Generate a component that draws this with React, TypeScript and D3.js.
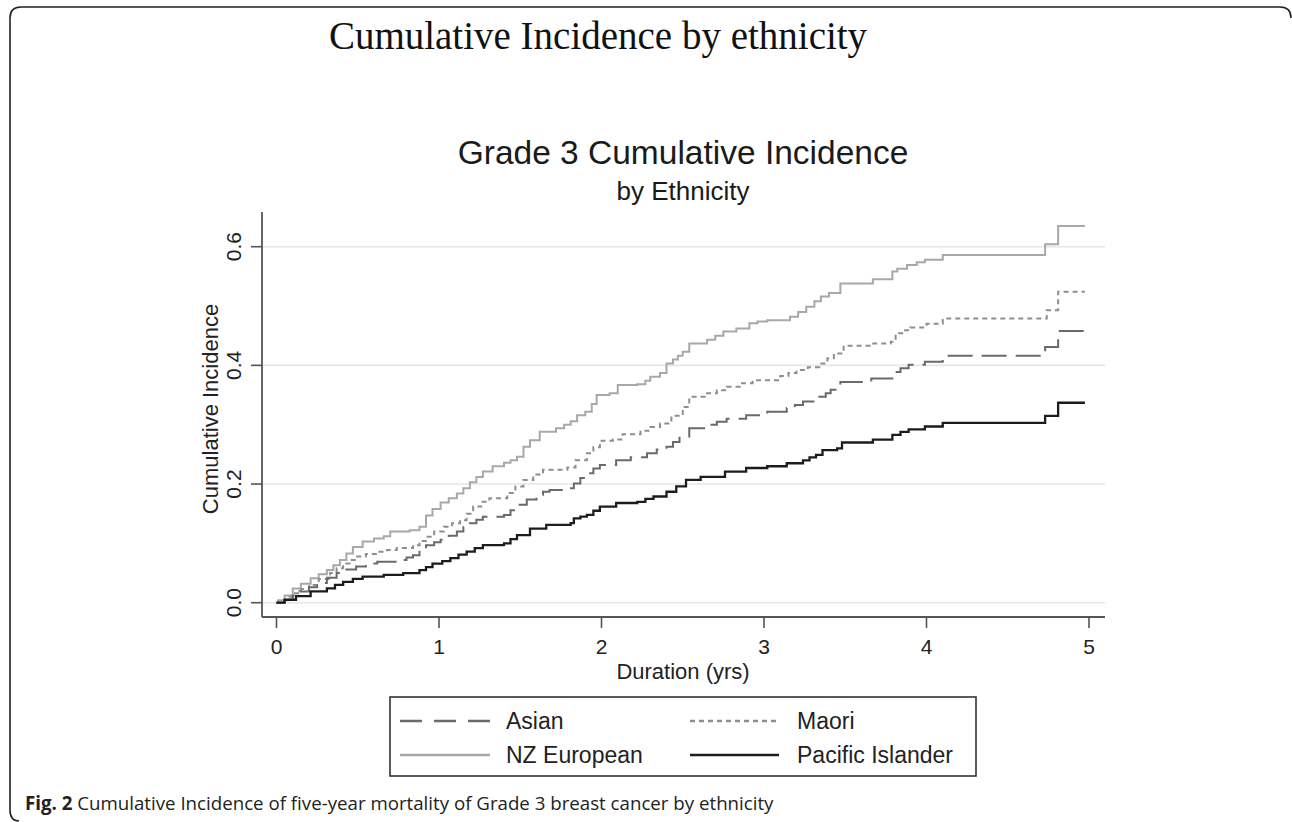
import React from "react";
import * as d3 from "d3";

// ---------- data ----------
const END_T = 4.975;

const NZ_T = [0, 0.01, 0.05, 0.1, 0.15, 0.21, 0.26, 0.31, 0.35, 0.39, 0.43, 0.47, 0.53, 0.6, 0.66, 0.7, 0.82, 0.88, 0.92, 0.96, 1.01, 1.06, 1.11, 1.15, 1.19, 1.23, 1.27, 1.33, 1.4, 1.44, 1.48, 1.52, 1.56, 1.62, 1.72, 1.77, 1.81, 1.85, 1.9, 1.94, 1.97, 2.05, 2.1, 2.22, 2.27, 2.3, 2.36, 2.4, 2.44, 2.47, 2.5, 2.54, 2.65, 2.7, 2.75, 2.83, 2.91, 2.96, 3.02, 3.16, 3.21, 3.26, 3.31, 3.35, 3.4, 3.47, 3.67, 3.79, 3.82, 3.88, 3.94, 3.99, 4.1, 4.73, 4.81];
const NZ_V = [0, 0.004, 0.012, 0.024, 0.032, 0.041, 0.048, 0.055, 0.063, 0.072, 0.083, 0.094, 0.103, 0.108, 0.112, 0.12, 0.122, 0.128, 0.147, 0.158, 0.169, 0.176, 0.184, 0.193, 0.203, 0.212, 0.221, 0.23, 0.236, 0.24, 0.246, 0.263, 0.274, 0.288, 0.294, 0.3, 0.306, 0.316, 0.322, 0.335, 0.35, 0.353, 0.367, 0.368, 0.374, 0.381, 0.387, 0.403, 0.41, 0.416, 0.423, 0.437, 0.443, 0.45, 0.457, 0.462, 0.471, 0.474, 0.476, 0.482, 0.49, 0.499, 0.508, 0.516, 0.522, 0.538, 0.545, 0.558, 0.563, 0.569, 0.574, 0.578, 0.586, 0.604, 0.635];

const MAORI_T = [0, 0.03, 0.07, 0.1, 0.15, 0.2, 0.26, 0.33, 0.37, 0.41, 0.45, 0.49, 0.55, 0.62, 0.68, 0.74, 0.84, 0.88, 0.92, 0.97, 1.03, 1.08, 1.13, 1.17, 1.21, 1.26, 1.31, 1.42, 1.47, 1.52, 1.58, 1.64, 1.79, 1.84, 1.91, 1.95, 1.99, 2.07, 2.13, 2.24, 2.3, 2.36, 2.43, 2.5, 2.54, 2.65, 2.71, 2.77, 2.85, 2.93, 3.1, 3.15, 3.2, 3.27, 3.34, 3.39, 3.43, 3.49, 3.66, 3.78, 3.81, 3.86, 3.9, 4.0, 4.1, 4.74, 4.81];
const MAORI_V = [0, 0.004, 0.01, 0.016, 0.023, 0.03, 0.04, 0.05, 0.058, 0.066, 0.072, 0.078, 0.082, 0.086, 0.089, 0.092, 0.097, 0.104, 0.111, 0.12, 0.128, 0.134, 0.139, 0.15, 0.162, 0.17, 0.176, 0.185, 0.196, 0.207, 0.216, 0.224, 0.228, 0.24, 0.252, 0.262, 0.273, 0.275, 0.284, 0.29, 0.296, 0.302, 0.315, 0.33, 0.347, 0.353, 0.358, 0.364, 0.37, 0.375, 0.382, 0.387, 0.392, 0.397, 0.403, 0.412, 0.42, 0.433, 0.437, 0.44, 0.454, 0.459, 0.464, 0.47, 0.479, 0.493, 0.524];

const ASIAN_T = [0, 0.05, 0.1, 0.14, 0.2, 0.25, 0.31, 0.37, 0.43, 0.49, 0.55, 0.62, 0.74, 0.8, 0.84, 0.88, 0.92, 0.97, 1.01, 1.06, 1.11, 1.15, 1.19, 1.23, 1.27, 1.4, 1.44, 1.48, 1.54, 1.6, 1.64, 1.68, 1.79, 1.83, 1.87, 1.91, 1.95, 1.99, 2.09, 2.18, 2.28, 2.34, 2.4, 2.44, 2.48, 2.54, 2.65, 2.71, 2.77, 2.89, 3.02, 3.14, 3.19, 3.24, 3.34, 3.38, 3.41, 3.47, 3.66, 3.79, 3.84, 3.89, 3.99, 4.1, 4.73, 4.81];
const ASIAN_V = [0, 0.005, 0.012, 0.019, 0.026, 0.033, 0.042, 0.05, 0.056, 0.061, 0.066, 0.069, 0.072, 0.076, 0.08, 0.088, 0.097, 0.102, 0.106, 0.113, 0.12, 0.127, 0.134, 0.14, 0.145, 0.148, 0.156, 0.165, 0.174, 0.182, 0.187, 0.19, 0.193, 0.201, 0.21, 0.218, 0.226, 0.232, 0.24, 0.245, 0.252, 0.258, 0.263, 0.271, 0.28, 0.294, 0.3, 0.305, 0.31, 0.316, 0.322, 0.328, 0.333, 0.339, 0.347, 0.353, 0.359, 0.372, 0.378, 0.389, 0.395, 0.401, 0.406, 0.416, 0.431, 0.458];

const PACIFIC_T = [0, 0.05, 0.12, 0.21, 0.31, 0.36, 0.41, 0.47, 0.53, 0.66, 0.78, 0.88, 0.92, 0.96, 1.02, 1.07, 1.12, 1.17, 1.22, 1.27, 1.4, 1.44, 1.48, 1.56, 1.66, 1.81, 1.83, 1.87, 1.91, 1.95, 1.99, 2.09, 2.22, 2.27, 2.32, 2.4, 2.46, 2.52, 2.61, 2.76, 2.89, 3.02, 3.14, 3.24, 3.28, 3.32, 3.36, 3.45, 3.48, 3.67, 3.79, 3.84, 3.89, 3.99, 4.1, 4.73, 4.81];
const PACIFIC_V = [0, 0.005, 0.011, 0.019, 0.024, 0.03, 0.035, 0.04, 0.044, 0.047, 0.05, 0.055, 0.06, 0.066, 0.07, 0.075, 0.081, 0.086, 0.092, 0.097, 0.1, 0.107, 0.114, 0.125, 0.131, 0.134, 0.142, 0.145, 0.148, 0.155, 0.162, 0.168, 0.17, 0.175, 0.179, 0.187, 0.196, 0.207, 0.212, 0.221, 0.227, 0.23, 0.235, 0.24, 0.245, 0.249, 0.257, 0.26, 0.27, 0.275, 0.283, 0.288, 0.292, 0.297, 0.303, 0.315, 0.337];

const X_TICKS = [0, 1, 2, 3, 4, 5];
const Y_TICKS = [0, 0.2, 0.4, 0.6];

const LEGEND_LABELS = ["Asian", "Maori", "NZ European", "Pacific Islander"];

// ---------- styles ----------
const SANS = "'Liberation Sans', Arial, Helvetica, sans-serif";
const SERIF = "'Liberation Serif', 'Times New Roman', serif";

type Style = { color: string; width: number; dash?: string; legendDash?: string };
const STYLES: Record<string, Style> = {
  Asian: { color: "#6a6a6a", width: 2, dash: "25,9", legendDash: "22,12" },
  Maori: { color: "#8e8e8e", width: 2, dash: "5,4", legendDash: "5,4" },
  "NZ European": { color: "#a8a8a8", width: 2 },
  "Pacific Islander": { color: "#1c1c1c", width: 2.3 },
};

function toPoints(ts: number[], vs: number[]): [number, number][] {
  const pts: [number, number][] = ts.map((t, i) => [t, vs[i]]);
  pts.push([END_T, vs[vs.length - 1]]);
  return pts;
}

const SERIES: { name: string; pts: [number, number][] }[] = [
  { name: "NZ European", pts: toPoints(NZ_T, NZ_V) },
  { name: "Maori", pts: toPoints(MAORI_T, MAORI_V) },
  { name: "Asian", pts: toPoints(ASIAN_T, ASIAN_V) },
  { name: "Pacific Islander", pts: toPoints(PACIFIC_T, PACIFIC_V) },
];

export default function App() {
  const W = 1292;
  const H = 822;
  // plot region
  const plotL = 262;
  const plotR = 1105;
  const plotT = 212;
  const plotB = 617;

  const x = d3.scaleLinear().domain([0, 5]).range([276.5, 1089]);
  const y = d3.scaleLinear().domain([0, 0.6]).range([602.7, 246.7]);

  const line = d3
    .line<[number, number]>()
    .x((d) => x(d[0]))
    .y((d) => y(d[1]))
    .curve(d3.curveStepAfter);

  const legendRows = [
    { name: LEGEND_LABELS[0], col: 0, row: 0 },
    { name: LEGEND_LABELS[1], col: 1, row: 0 },
    { name: LEGEND_LABELS[2], col: 0, row: 1 },
    { name: LEGEND_LABELS[3], col: 1, row: 1 },
  ];
  const legCols = [
    { s0: 400, s1: 490, tx: 506 },
    { s0: 690, s1: 779, tx: 797 },
  ];
  const legRowsY = [721, 755];

  return (
    <svg
      width={W}
      height={H}
      style={{ position: "absolute", left: 0, top: 0, background: "#fff" }}
    >
      <rect x={0} y={0} width={W} height={H} fill="#fff" />
      {/* frame */}
      <path
        d="M1291,18 Q1291,7 1280,7 L21,7 Q10,7 10,18 L10,810 Q10,821 19,821"
        fill="none"
        stroke="#222"
        strokeWidth={1.6}
      />
      {/* page title */}
      <text
        x={598}
        y={49}
        textAnchor="middle"
        fontFamily={SERIF}
        fontSize={39}
        fill="#111"
      >
        Cumulative Incidence by ethnicity
      </text>

      {/* chart titles */}
      <text x={683} y={164} textAnchor="middle" fontFamily={SANS} fontSize={33.5} fill="#1a1a1a">
        Grade 3 Cumulative Incidence
      </text>
      <text x={683} y={200} textAnchor="middle" fontFamily={SANS} fontSize={26} fill="#1a1a1a">
        by Ethnicity
      </text>

      {/* gridlines */}
      {Y_TICKS.map((v) => (
        <line
          key={"g" + v}
          x1={plotL}
          x2={plotR}
          y1={y(v)}
          y2={y(v)}
          stroke="#e6e6e6"
          strokeWidth={1.6}
        />
      ))}

      {/* axes */}
      <line x1={plotL} x2={plotL} y1={plotT} y2={plotB} stroke="#555" strokeWidth={1.8} />
      <line x1={plotL} x2={plotR} y1={plotB} y2={plotB} stroke="#555" strokeWidth={1.8} />
      {Y_TICKS.map((v) => (
        <g key={"yt" + v}>
          <line x1={plotL - 11} x2={plotL} y1={y(v)} y2={y(v)} stroke="#555" strokeWidth={1.6} />
          <text
            transform={`translate(241,${y(v)}) rotate(-90)`}
            textAnchor="middle"
            fontFamily={SANS}
            fontSize={21}
            fill="#222"
          >
            {v.toFixed(1)}
          </text>
        </g>
      ))}
      {X_TICKS.map((t) => (
        <g key={"xt" + t}>
          <line x1={x(t)} x2={x(t)} y1={plotB} y2={plotB + 11} stroke="#555" strokeWidth={1.6} />
          <text x={x(t)} y={654} textAnchor="middle" fontFamily={SANS} fontSize={21} fill="#222">
            {t}
          </text>
        </g>
      ))}
      <text
        transform={`translate(218,409) rotate(-90)`}
        textAnchor="middle"
        fontFamily={SANS}
        fontSize={22}
        fill="#222"
      >
        Cumulative Incidence
      </text>
      <text x={683} y={679} textAnchor="middle" fontFamily={SANS} fontSize={22} fill="#222">
        Duration (yrs)
      </text>

      {/* curves */}
      {SERIES.map((s) => {
        const st = STYLES[s.name];
        return (
          <path
            key={s.name}
            d={line(s.pts) || ""}
            fill="none"
            stroke={st.color}
            strokeWidth={st.width}
            strokeDasharray={st.dash}
          />
        );
      })}

      {/* legend */}
      <rect x={390} y={697} width={586} height={79} fill="#fff" stroke="#333" strokeWidth={1.6} />
      {legendRows.map((r) => {
        const st = STYLES[r.name];
        const c = legCols[r.col];
        const ly = legRowsY[r.row];
        return (
          <g key={"l" + r.name}>
            <line
              x1={c.s0}
              x2={c.s1}
              y1={ly}
              y2={ly}
              stroke={st.color}
              strokeWidth={st.width + 0.4}
              strokeDasharray={st.legendDash}
            />
            <text x={c.tx} y={ly + 8} fontFamily={SANS} fontSize={23} fill="#222">
              {r.name}
            </text>
          </g>
        );
      })}

      {/* caption */}
      <text x={25} y={810} fontFamily="'Open Sans', 'Noto Sans', sans-serif" fontSize={18.7} fill="#222">
        <tspan fontWeight="bold">Fig. 2</tspan>
        <tspan> Cumulative Incidence of five-year mortality of Grade 3 breast cancer by ethnicity</tspan>
      </text>
    </svg>
  );
}
